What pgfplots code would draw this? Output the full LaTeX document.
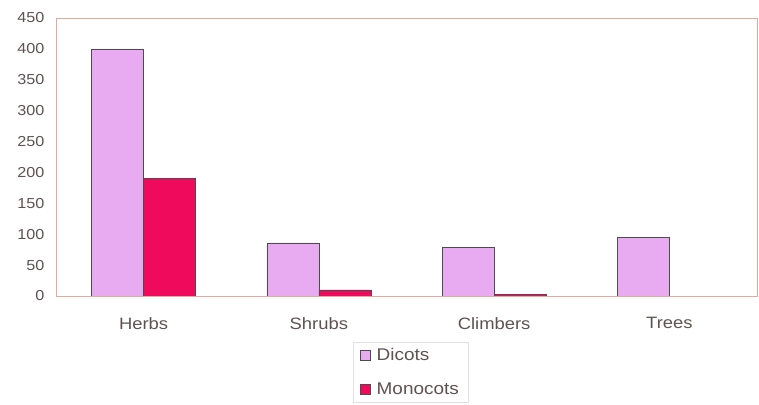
\documentclass[border=0pt]{standalone}
\usepackage{pgfplots}
\pgfplotsset{compat=1.18}
\usepackage{fontspec}
\setmainfont{Liberation Sans}[FakeStretch=1.12]
\definecolor{dicot}{HTML}{E8AAF0}
\definecolor{mono}{HTML}{F00A5C}
\definecolor{frame}{HTML}{E8A8A0}
\definecolor{txt}{HTML}{5E5252}
\begin{document}
\begin{tikzpicture}
\useasboundingbox (0bp,0bp) rectangle (759bp,405bp);
\begin{axis}[
  at={(56bp,109bp)}, anchor=origin,
  scale only axis, width=701bp, height=278bp,
  xmin=0, xmax=4, ymin=0, ymax=450,
  ytick={0,50,...,450},
  xtick={0.5,1.5,2.5,3.5}, xticklabels={Herbs,Shrubs,Climbers,Trees},
  major tick length=0pt,
  axis line style={draw=frame, line width=0.6pt},
  ybar=0pt, bar width=52bp,
  /pgf/number format/assume math mode=true,
  tick label style={text=txt},
  yticklabel style={font=\fontsize{14.5}{16}\selectfont, xshift=-8bp},
  xticklabel style={font=\fontsize{16.5}{18}\selectfont, yshift=-18bp},
  legend style={at={(0.424,-0.165)}, anchor=north west, draw=black!12,
    font=\fontsize{17}{19}\selectfont, text=txt,
    legend cell align=left, row sep=17bp, inner xsep=7bp, inner ysep=4bp},
  legend image code/.code={\draw[#1, draw=black!70, line width=0.5pt] (0bp,-5bp) rectangle (10bp,5bp); \path[draw=none, fill=none] (0bp,0bp) -- (14bp,0bp);},
]
\addplot[fill=dicot, draw=black!70, line width=0.6pt] coordinates {(0.5,400) (1.5,86) (2.5,79) (3.5,95)};
\addplot[fill=mono, draw=black!70, line width=0.6pt] coordinates {(0.5,190) (1.5,10) (2.5,2) (3.5,0)};
\legend{Dicots, Monocots}
\end{axis}
\end{tikzpicture}
\end{document}
